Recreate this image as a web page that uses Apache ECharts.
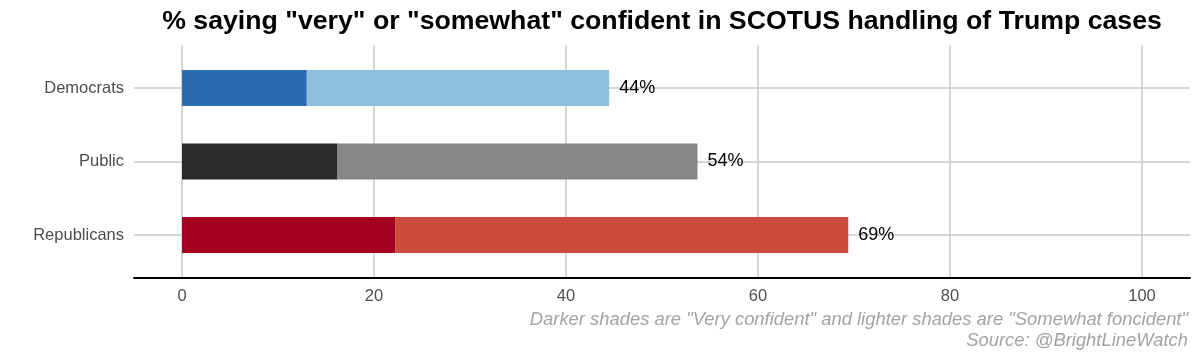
<!DOCTYPE html>
<html><head><meta charset="utf-8">
<script src="https://cdn.jsdelivr.net/npm/echarts@6/dist/echarts.min.js"></script>
<style>html,body{margin:0;padding:0;background:#fff}#c{width:1200px;height:360px}</style>
</head><body><div id="c"></div>
<script>
const categories = ['Democrats', 'Public', 'Republicans'];
const veryConfident = [13.0, 16.2, 22.2];
const somewhatConfident = [31.5, 37.5, 47.2];
const totalLabels = ['44%', '54%', '69%'];
const darkColors = ['#2b6cb0', '#2a2a2a', '#a50021'];
const lightColors = ['#8ebfdc', '#878787', '#cb4b3c'];
const titleText = '% saying "very" or "somewhat" confident in SCOTUS handling of Trump cases';
const captionLines = [
  'Darker shades are "Very confident" and lighter shades are "Somewhat foncident"',
  'Source: @BrightLineWatch'
];

const FONT = "'Liberation Sans', Arial, Helvetica, sans-serif";
const GRID_COLOR = '#c8c8c8';
const chart = echarts.init(document.getElementById('c'), null, { renderer: 'canvas' });

chart.setOption({
  backgroundColor: '#ffffff',
  animation: false,
  textStyle: { fontFamily: FONT },
  title: {
    text: titleText,
    left: 662,
    top: 8,
    textAlign: 'center',
    padding: 0,
    textStyle: { fontFamily: FONT, fontSize: 26.7, fontWeight: 'bold', color: '#000000' }
  },
  grid: [
    { left: 182, right: 58, top: 45, bottom: 82 },
    { left: 134, right: 10, top: 88, bottom: 125 }
  ],
  xAxis: [
    {
      gridIndex: 0, type: 'value', min: 0, max: 100, interval: 20,
      axisLine: { show: false }, axisTick: { show: false },
      splitLine: { show: true, lineStyle: { color: GRID_COLOR, width: 1.5 } },
      axisLabel: { color: '#4d4d4d', fontSize: 16.5, margin: 9.5, fontFamily: FONT }
    },
    {
      gridIndex: 1, type: 'value', min: -5, max: 105, offset: 43,
      axisLine: { show: true, onZero: false, lineStyle: { color: '#000000', width: 2 } },
      axisTick: { show: false }, axisLabel: { show: false }, splitLine: { show: false }
    }
  ],
  yAxis: [
    { gridIndex: 0, type: 'value', show: false, min: 0, max: 1 },
    {
      gridIndex: 1, type: 'category', data: categories, inverse: true, boundaryGap: false,
      axisLine: { show: false }, axisTick: { show: false },
      splitLine: { show: true, lineStyle: { color: GRID_COLOR, width: 1.5 } },
      axisLabel: { color: '#4d4d4d', fontSize: 16.5, margin: 10, fontFamily: FONT }
    }
  ],
  series: [
    {
      name: 'Very confident', type: 'bar', xAxisIndex: 1, yAxisIndex: 1, stack: 'total',
      barWidth: 36, clip: false,
      data: veryConfident.map((v, i) => ({ value: v, itemStyle: { color: darkColors[i] } }))
    },
    {
      name: 'Somewhat confident', type: 'bar', xAxisIndex: 1, yAxisIndex: 1, stack: 'total',
      barWidth: 36, clip: false,
      data: somewhatConfident.map((v, i) => ({ value: v, itemStyle: { color: lightColors[i] } })),
      label: {
        show: true, position: 'right', distance: 10,
        formatter: p => totalLabels[p.dataIndex],
        color: '#000000', fontSize: 18, fontFamily: FONT
      }
    }
  ],
  graphic: captionLines.map((t, i) => ({
    type: 'text', x: 1188, y: 320 + i * 21, silent: true,
    style: {
      text: t, align: 'right', verticalAlign: 'middle',
      fontFamily: FONT, fontSize: 18.4, fontStyle: 'italic', fill: '#a3a3a3'
    }
  }))
});
</script></body></html>
